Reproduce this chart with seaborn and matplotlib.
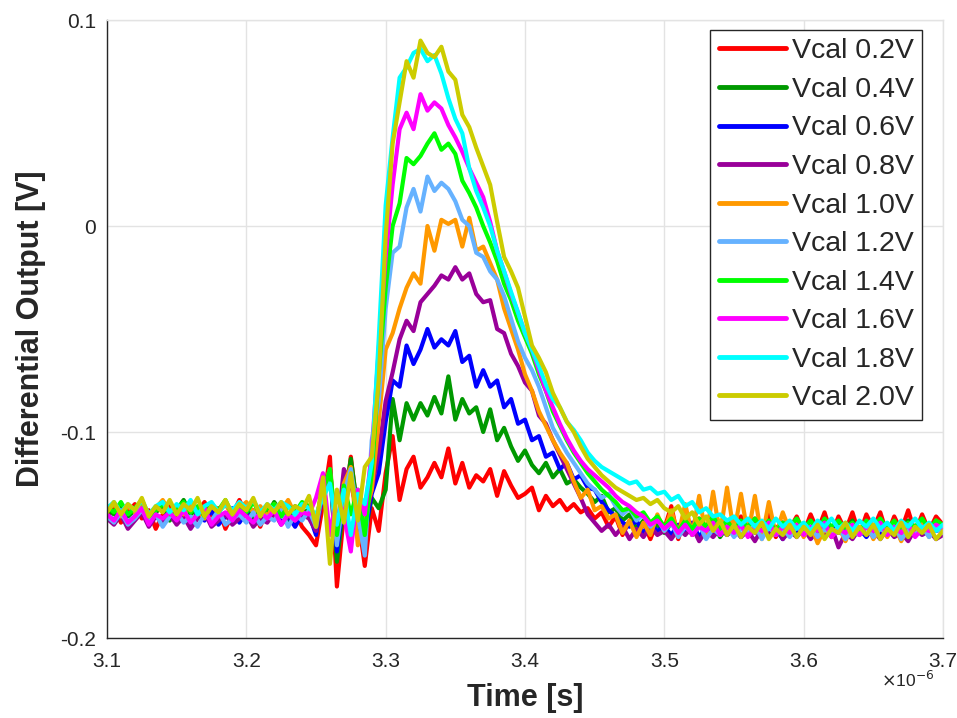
import numpy as np
import pandas as pd
import matplotlib
matplotlib.use("Agg")
import matplotlib.pyplot as plt
import seaborn as sns

# time grid in microseconds (sampling grid, 5 ns step)
time_us = np.round(3.1 + 0.005 * np.arange(121), 3)

labels = ["Vcal 0.2V", "Vcal 0.4V", "Vcal 0.6V", "Vcal 0.8V", "Vcal 1.0V",
          "Vcal 1.2V", "Vcal 1.4V", "Vcal 1.6V", "Vcal 1.8V", "Vcal 2.0V"]
colors = ["#FF0000", "#009900", "#0000FF", "#990099", "#FF9900",
          "#66B2FF", "#00FF00", "#FF00FF", "#00FFFF", "#CCCC00"]

# values in mV
vcal_02 = [-141,-137,-144,-139,-135,-142,-138,-147,-140,-136,
           -143,-138,-146,-139,-134,-141,-137,-147,-140,-133,
           -140,-138,-146,-137,-141,-135,-142,-139,-146,-150,
           -155,-135,-112,-175,-140,-112,-140,-165,-137,-148,
           -120,-102,-133,-118,-112,-127,-122,-115,-122,-108,
           -125,-115,-127,-121,-124,-118,-131,-119,-126,-132,
           -130,-127,-138,-131,-136,-133,-138,-135,-139,-137,
           -142,-139,-146,-141,-150,-143,-149,-144,-152,-143,
           -147,-136,-152,-141,-146,-142,-149,-141,-147,-143,
           -148,-141,-150,-142,-149,-140,-151,-144,-147,-141,
           -149,-140,-148,-139,-150,-141,-148,-139,-150,-140,
           -147,-139,-150,-141,-148,-138,-149,-140,-148,-141,
           -145]
vcal_04 = [-137,-140,-135,-141,-138,-134,-142,-139,-136,-143,
           -138,-133,-140,-137,-142,-136,-139,-134,-141,-138,
           -135,-142,-137,-140,-134,-139,-143,-136,-139,-138,
           -145,-125,-120,-163,-135,-113,-138,-150,-132,-137,
           -128,-84,-104,-86,-94,-86,-92,-83,-91,-73,
           -94,-84,-91,-88,-100,-89,-104,-98,-107,-114,
           -109,-116,-120,-115,-122,-118,-125,-123,-127,-130,
           -134,-131,-139,-137,-143,-140,-147,-143,-148,-145,
           -149,-144,-147,-143,-150,-145,-148,-144,-151,-146,
           -148,-143,-150,-145,-147,-143,-149,-144,-150,-146,
           -147,-143,-149,-144,-151,-145,-148,-143,-150,-146,
           -148,-144,-150,-145,-147,-143,-149,-144,-147,-143,
           -146]
vcal_06 = [-140,-143,-138,-144,-141,-137,-145,-140,-143,-138,
           -144,-140,-146,-139,-143,-138,-145,-141,-137,-144,
           -139,-145,-140,-143,-137,-144,-141,-146,-140,-140,
           -150,-128,-118,-158,-132,-120,-145,-150,-130,-120,
           -95,-75,-78,-58,-67,-60,-50,-59,-55,-58,
           -51,-66,-63,-78,-70,-78,-75,-88,-84,-96,
           -94,-104,-102,-112,-110,-118,-115,-123,-121,-127,
           -128,-134,-138,-141,-144,-146,-143,-149,-145,-148,
           -146,-150,-145,-149,-144,-151,-146,-149,-145,-150,
           -147,-151,-146,-149,-145,-150,-147,-152,-146,-149,
           -145,-150,-147,-151,-146,-149,-145,-150,-147,-151,
           -146,-149,-145,-150,-147,-151,-146,-149,-145,-148,
           -147]
vcal_08 = [-142,-145,-140,-147,-143,-139,-146,-141,-144,-140,
           -145,-141,-147,-142,-139,-146,-143,-140,-145,-142,
           -140,-146,-142,-144,-139,-145,-141,-143,-140,-142,
           -148,-130,-120,-150,-118,-125,-140,-145,-128,-110,
           -85,-71,-55,-46,-51,-37,-33,-29,-24,-26,
           -20,-26,-23,-33,-37,-36,-50,-52,-62,-68,
           -76,-80,-92,-96,-104,-111,-118,-125,-132,-140,
           -144,-148,-145,-150,-146,-152,-147,-151,-146,-150,
           -148,-152,-147,-150,-146,-153,-148,-151,-147,-150,
           -146,-151,-148,-153,-147,-150,-146,-152,-148,-151,
           -147,-152,-148,-150,-146,-156,-149,-152,-147,-150,
           -148,-152,-147,-151,-149,-153,-147,-150,-148,-152,
           -150]
vcal_10 = [-138,-135,-141,-136,-139,-134,-140,-137,-133,-139,
           -136,-140,-135,-138,-142,-136,-139,-135,-141,-137,
           -134,-139,-136,-141,-135,-138,-133,-140,-136,-136,
           -142,-128,-118,-152,-125,-117,-155,-140,-128,-95,
           -60,-52,-40,-30,-23,-28,0,-12,3,1,
           3,-10,4,-12,-10,-18,-26,-40,-50,-60,
           -72,-80,-90,-97,-104,-110,-115,-124,-132,-128,
           -138,-136,-142,-140,-149,-143,-151,-144,-150,-140,
           -148,-138,-150,-135,-150,-131,-151,-129,-150,-127,
           -149,-130,-150,-131,-152,-134,-150,-139,-148,-143,
           -151,-145,-154,-147,-151,-146,-153,-145,-150,-144,
           -152,-146,-151,-145,-153,-146,-150,-144,-151,-143,
           -146]
vcal_12 = [-141,-144,-139,-145,-142,-138,-143,-140,-146,-141,
           -139,-144,-141,-146,-140,-143,-138,-145,-142,-140,
           -144,-139,-145,-141,-143,-138,-146,-140,-143,-138,
           -146,-128,-122,-155,-130,-118,-140,-160,-104,-85,
           -40,-13,-10,9,18,7,24,17,21,18,
           12,3,0,-13,-15,-22,-26,-34,-45,-56,
           -64,-70,-78,-88,-98,-104,-110,-115,-120,-125,
           -128,-132,-130,-136,-140,-137,-143,-140,-146,-142,
           -148,-144,-151,-146,-149,-145,-152,-147,-150,-146,
           -151,-147,-149,-145,-152,-146,-150,-147,-151,-146,
           -149,-145,-151,-147,-150,-146,-152,-148,-150,-146,
           -151,-147,-149,-145,-152,-148,-150,-146,-151,-147,
           -149]
vcal_14 = [-136,-139,-134,-140,-137,-133,-141,-138,-135,-140,
           -137,-134,-139,-136,-141,-135,-138,-133,-140,-136,
           -139,-134,-140,-137,-135,-141,-136,-139,-134,-136,
           -142,-130,-118,-150,-126,-140,-128,-150,-120,-72,
           -30,0,11,33,30,34,40,45,37,40,
           35,22,16,9,0,-8,-17,-28,-36,-46,
           -54,-62,-72,-80,-90,-97,-104,-110,-115,-120,
           -124,-128,-131,-134,-138,-137,-141,-139,-144,-141,
           -146,-142,-148,-143,-147,-142,-146,-141,-147,-143,
           -148,-143,-146,-142,-147,-143,-148,-144,-146,-142,
           -147,-143,-148,-142,-146,-143,-147,-144,-148,-143,
           -146,-142,-147,-143,-148,-144,-146,-142,-147,-143,
           -145]
vcal_16 = [-140,-143,-138,-144,-141,-137,-145,-140,-142,-139,
           -143,-138,-144,-140,-137,-145,-141,-139,-143,-138,
           -141,-144,-139,-142,-138,-145,-140,-143,-139,-140,
           -132,-120,-150,-130,-140,-158,-128,-140,-110,-60,
           -15,20,47,55,47,64,56,60,57,49,
           43,36,28,21,14,2,-12,-22,-33,-42,
           -52,-60,-70,-80,-88,-96,-103,-109,-114,-118,
           -121,-124,-127,-131,-134,-136,-139,-141,-145,-143,
           -147,-144,-149,-145,-150,-146,-148,-144,-150,-146,
           -149,-145,-151,-146,-148,-144,-150,-146,-149,-145,
           -150,-146,-148,-144,-151,-147,-149,-145,-150,-146,
           -148,-144,-150,-146,-149,-145,-151,-147,-148,-145,
           -147]
vcal_18 = [-137,-134,-139,-135,-138,-133,-140,-136,-134,-139,
           -135,-138,-133,-140,-136,-134,-139,-135,-138,-134,
           -137,-133,-139,-135,-138,-134,-136,-140,-135,-137,
           -140,-132,-125,-145,-128,-150,-130,-135,-115,-55,
           10,43,72,77,84,86,80,83,74,62,
           52,45,28,17,9,0,-12,-22,-32,-42,
           -52,-60,-68,-77,-84,-88,-95,-99,-104,-110,
           -114,-117,-119,-121,-123,-125,-124,-128,-127,-130,
           -129,-133,-131,-136,-134,-139,-137,-141,-140,-143,
           -141,-145,-142,-146,-143,-147,-142,-146,-143,-147,
           -144,-148,-143,-146,-142,-147,-144,-148,-143,-146,
           -142,-147,-144,-148,-143,-146,-142,-147,-144,-148,
           -145]
vcal_20 = [-139,-134,-140,-135,-138,-132,-141,-136,-139,-133,
           -140,-135,-138,-132,-141,-136,-139,-133,-140,-135,
           -138,-132,-141,-135,-139,-134,-140,-136,-138,-131,
           -146,-122,-164,-128,-144,-120,-143,-117,-112,-75,
           -5,40,60,80,72,90,84,82,87,75,
           71,54,48,38,29,20,2,-15,-22,-30,
           -44,-58,-64,-71,-81,-88,-95,-100,-107,-113,
           -117,-121,-124,-127,-129,-131,-133,-132,-135,-133,
           -137,-139,-136,-142,-139,-145,-141,-148,-143,-150,
           -145,-151,-146,-149,-144,-152,-147,-150,-145,-151,
           -146,-150,-145,-152,-147,-149,-144,-151,-146,-150,
           -145,-152,-147,-150,-144,-151,-146,-149,-145,-152,
           -148]

series = [vcal_02, vcal_04, vcal_06, vcal_08, vcal_10,
          vcal_12, vcal_14, vcal_16, vcal_18, vcal_20]

frames = []
for lab, vals in zip(labels, series):
    frames.append(pd.DataFrame({"time": time_us,
                                "value": np.array(vals) / 1000.0,
                                "label": lab}))
df = pd.concat(frames, ignore_index=True)

sns.set_theme(style="white")
plt.rcParams["font.family"] = ["Liberation Sans", "DejaVu Sans"]

fig = plt.figure(figsize=(9.57, 7.18), dpi=100)
ax = fig.add_axes([107/957, 80/718, (943-107)/957, (638-20)/718])

sns.lineplot(data=df, x="time", y="value", hue="label", hue_order=labels,
             palette=colors, estimator=None, sort=False, linewidth=3.0,
             ax=ax, legend=False)
for ln in ax.get_lines():
    ln.set_solid_joinstyle("round")
    ln.set_solid_capstyle("round")

ax.set_xlim(3.1, 3.7)
ax.set_ylim(-0.2, 0.1)
ax.set_xticks([3.1, 3.2, 3.3, 3.4, 3.5, 3.6, 3.7])
ax.set_xticklabels(["3.1", "3.2", "3.3", "3.4", "3.5", "3.6", "3.7"], fontsize=15)
ax.set_yticks([-0.2, -0.1, 0.0, 0.1])
ax.set_yticklabels(["-0.2", "-0.1", "0", "0.1"], fontsize=15)
ax.grid(True, color="#E3E3E3", linewidth=1.0)
ax.set_axisbelow(True)
ax.tick_params(direction="in", length=6, width=1, colors="#262626")
ax.tick_params(axis="x", pad=10)
ax.tick_params(axis="y", pad=8)
for s in ["left", "bottom"]:
    ax.spines[s].set_color("#262626")
    ax.spines[s].set_linewidth(1.0)
for s in ["top", "right"]:
    ax.spines[s].set_color("#E3E3E3")
    ax.spines[s].set_linewidth(1.0)

ax.set_xlabel("Time [s]", fontsize=22, fontweight="bold", color="#262626", labelpad=9)
ax.set_ylabel("Differential Output [V]", fontsize=22, fontweight="bold",
              color="#262626", labelpad=10)
fig.text(908/957, 1 - 680/718, r"$\times$10$^{-6}$", fontsize=12.5,
         color="#262626", ha="center", va="center")

handles = [plt.Line2D([], [], color=c, linewidth=3.5) for c in colors]
leg = ax.legend(handles, labels, loc="upper right", bbox_to_anchor=(0.975, 0.984),
                fontsize=20.5, frameon=True, fancybox=False, framealpha=1,
                edgecolor="#262626", handlelength=2.35, handletextpad=0.2,
                labelspacing=0.44, borderpad=0.3, borderaxespad=0.0)
leg.get_frame().set_linewidth(1.0)

fig.savefig("out.png", dpi=100)
